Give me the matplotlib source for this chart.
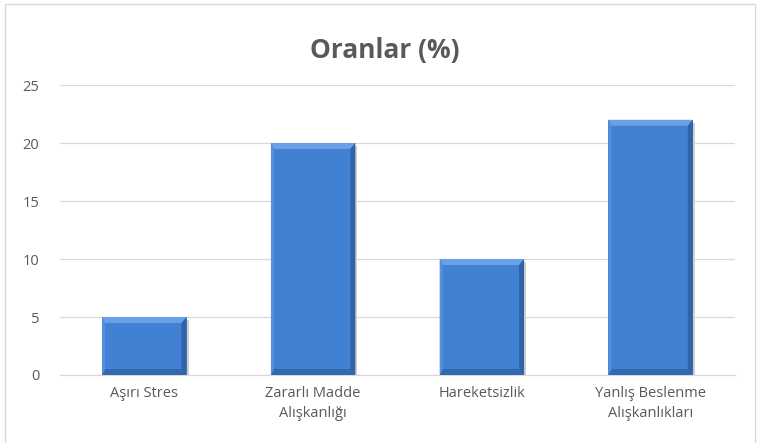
import numpy as np
import matplotlib.pyplot as plt
from matplotlib.patches import Rectangle, Polygon

# Data
categories = ['Aşırı Stres', 'Zararlı Madde\nAlışkanlığı', 'Hareketsizlik',
              'Yanlış Beslenme\nAlışkanlıkları']
values = [5, 20, 10, 22]
yticks = [0, 5, 10, 15, 20, 25]

GRID = '#d9d9d9'
TEXT = '#595959'
FACE = '#4181d3'

plt.rcParams['font.family'] = ['Open Sans', 'DejaVu Sans']

fig = plt.figure(figsize=(7.69, 4.43), dpi=100)
fig.patch.set_facecolor('white')
ax = fig.add_axes([60 / 769, 0.1535, 675 / 769, 0.6546])

# outer chart border
fig.add_artist(Rectangle((5 / 769, -0.01), 750 / 769, 1 - 4 / 443 + 0.01,
                         transform=fig.transFigure, fill=False,
                         edgecolor=GRID, linewidth=1))

x = np.arange(len(categories))
bars = ax.bar(x, values, width=0.5, color=FACE, edgecolor='none', zorder=3)

ax.set_xlim(-0.5, len(categories) - 0.5)
ax.set_ylim(0, 25)

# bevel edges, drawn in pixels around each bar
for b in bars:
    (x0, y0), (x1, y1) = ax.transData.transform(
        [(b.get_x(), 0), (b.get_x() + b.get_width(), b.get_height())])
    t, bt, l, r = 6, 6, 3, 5
    edges = [
        ([(x0, y1), (x1, y1), (x1 - r, y1 - t), (x0 + l, y1 - t)], '#6aa1e6'),
        ([(x0, y0), (x1, y0), (x1 - r, y0 + bt), (x0 + l, y0 + bt)], '#3268b0'),
        ([(x0, y0), (x0 + l, y0 + bt), (x0 + l, y1 - t), (x0, y1)], '#5590dc'),
        ([(x1, y0), (x1 - r, y0 + bt), (x1 - r, y1 - t), (x1, y1)], '#3063aa'),
    ]
    for pts, c in edges:
        fig.add_artist(Polygon(pts, closed=True, transform=None,
                               facecolor=c, edgecolor='none', zorder=4))
    # soft shadow on the right
    fig.add_artist(Rectangle((x1, y0), 2, y1 - y0 - 3, transform=None,
                             facecolor='#d0d0d0', edgecolor='none', zorder=2.5))

ax.set_yticks(yticks)
ax.set_xticks(x)
ax.set_xticklabels(categories, fontsize=10.5, color=TEXT, linespacing=1.45)
ax.tick_params(axis='y', labelsize=10.5, labelcolor=TEXT, length=0, pad=15)
ax.tick_params(axis='x', length=0, pad=8)

ax.grid(axis='y', color=GRID, linewidth=0.9, zorder=0)
ax.set_axisbelow(True)
for s in ['top', 'right', 'left']:
    ax.spines[s].set_visible(False)
ax.spines['bottom'].set_color(GRID)
ax.spines['bottom'].set_linewidth(0.9)

fig.text(0.5, 0.886, 'Oranlar (%)', ha='center', va='center',
         fontsize=19, fontweight='bold', color=TEXT)

fig.savefig('out.png', dpi=100)
